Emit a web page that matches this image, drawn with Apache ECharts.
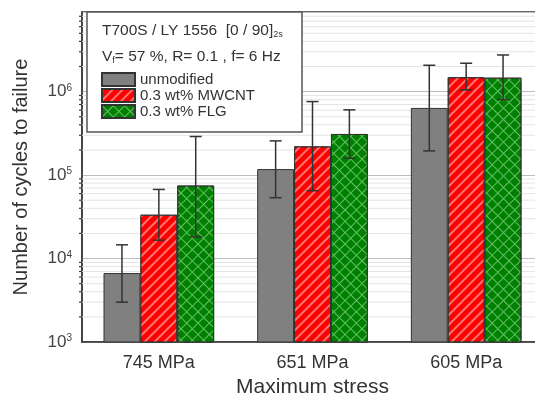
<!DOCTYPE html>
<html>
<head>
<meta charset="utf-8">
<script src="https://cdn.jsdelivr.net/npm/echarts@6/dist/echarts.min.js"></script>
<style>
  html, body { margin: 0; padding: 0; background: #fff; }
  #chart { width: 535px; height: 398px; }
</style>
</head>
<body>
<div id="chart"></div>
<script>
// dữ liệu
const categories = ['745 MPa', '651 MPa', '605 MPa'];
const seriesNames = ['unmodified', '0.3 wt% MWCNT', '0.3 wt% FLG'];
const unmodified = [6700, 118000, 638000];
const mwcnt = [33500, 221000, 1490000];
const flg = [75000, 311000, 1470000];
// [thấp, cao] của thanh sai số
const unmodifiedErr = [[3000, 14600], [53600, 257000], [195000, 2070000]];
const mwcntErr = [[16600, 67300], [65000, 760000], [1050000, 2190000]];
const flgErr = [[18200, 290000], [159000, 605000], [803000, 2750000]];
const yMin = 1000;
const yMax = 9000000;
const decades = [1e3, 1e4, 1e5, 1e6];
const minorSteps = [2, 3, 4, 5, 6, 7, 8, 9];

const FONT = '"Liberation Sans", Arial, sans-serif';

let minorData = [];
decades.forEach(d => {
    minorSteps.forEach(k => {
        if (d * k < yMax) minorData.push([0, d * k]);
    });
});

let errData = [];
[unmodifiedErr, mwcntErr, flgErr].forEach((errs, s) => {
    errs.forEach((e, i) => errData.push([i, e[0], e[1], s]));
});

const barGroup = 0.72; // phần của nhóm cột trong một danh mục

var myChart = echarts.init(document.getElementById('chart'));

let option = {
    backgroundColor: '#fff',
    animation: false,
    textStyle: { fontFamily: FONT },
    grid: {
        left: 82, top: 12, right: -8, bottom: 56,
        outerBoundsMode: 'none',
        show: true, borderColor: '#3a3a3a', borderWidth: 1.5, backgroundColor: '#fff'
    },
    legend: {
        data: seriesNames,
        orient: 'vertical',
        left: 101, top: 72,
        padding: 0,
        itemWidth: 33, itemHeight: 13, itemGap: 1,
        icon: 'rect',
        z: 6,
        textStyle: { fontSize: 15, color: '#333', fontFamily: FONT }
    },
    graphic: [
        {
            type: 'rect', z: 4,
            shape: { x: 87, y: 12, width: 215, height: 120 },
            style: { fill: '#fff', stroke: '#555', lineWidth: 1.5 }
        },
        {
            type: 'text', z: 5, left: 102, top: 23,
            style: {
                text: '{a|T700S / LY 1556  [0 / 90]}{s|2s}',
                rich: {
                    a: { fontSize: 15.5, fill: '#333', fontFamily: FONT },
                    s: { fontSize: 9, fill: '#333', fontFamily: FONT, verticalAlign: 'bottom' }
                }
            }
        },
        {
            type: 'text', z: 5, left: 102, top: 49,
            style: {
                text: '{a|V}{s|f}{a|= 57 %, R= 0.1 , f= 6 Hz}',
                rich: {
                    a: { fontSize: 15.5, fill: '#333', fontFamily: FONT },
                    s: { fontSize: 9, fill: '#333', fontFamily: FONT, verticalAlign: 'bottom' }
                }
            }
        }
    ],
    xAxis: [
        {
            type: 'category',
            data: categories,
            position: 'bottom',
            axisLine: { lineStyle: { color: '#3a3a3a', width: 1.5 } },
            axisTick: { alignWithLabel: true, length: 6, lineStyle: { color: '#3a3a3a', width: 1.5 } },
            axisLabel: { fontSize: 18, color: '#333', margin: 12 },
            name: 'Maximum stress',
            nameLocation: 'middle',
            nameGap: 35,
            nameTextStyle: { fontSize: 21, color: '#333' }
        },
        {
            type: 'category',
            data: categories,
            position: 'bottom',
            offset: 0,
            axisLine: { show: false },
            axisTick: { length: 4, lineStyle: { color: '#3a3a3a', width: 1.5 } },
            axisLabel: { show: false }
        }
    ],
    yAxis: {
        type: 'log',
        logBase: 10,
        min: yMin,
        max: yMax,
        splitNumber: 4,
        axisLine: { show: true, lineStyle: { color: '#3a3a3a', width: 1.5 } },
        axisTick: { length: 5, lineStyle: { color: '#3a3a3a', width: 1.5 } },
        splitLine: { lineStyle: { color: '#bdbdbd', width: 1 } },
        axisLabel: {
            margin: 10,
            color: '#444',
            showMaxLabel: false,
            formatter: function (v) {
                let p = Math.log10(v);
                if (Math.abs(p - Math.round(p)) > 1e-6) return '';
                return '{b|10}{p|' + Math.round(p) + '}';
            },
            rich: {
                b: { fontSize: 17, color: '#444' },
                p: { fontSize: 10, color: '#444', verticalAlign: 'top' }
            }
        },
        name: 'Number of cycles to failure',
        nameLocation: 'middle',
        nameGap: 51,
        nameTextStyle: { fontSize: 20, color: '#333' }
    },
    series: [
        {
            // lưới phụ + vạch phụ trục y
            type: 'custom',
            silent: true,
            z: 1,
            data: minorData,
            renderItem: function (params, api) {
                let p = api.coord([0, api.value(1)]);
                let cs = params.coordSys;
                return {
                    type: 'group',
                    children: [
                        {
                            type: 'line',
                            shape: { x1: cs.x, y1: p[1], x2: cs.x + cs.width, y2: p[1] },
                            style: { stroke: '#e4e4e4', lineWidth: 1 }
                        },
                        {
                            type: 'line',
                            shape: { x1: cs.x - 3, y1: p[1], x2: cs.x, y2: p[1] },
                            style: { stroke: '#3a3a3a', lineWidth: 1.2 }
                        }
                    ]
                };
            }
        },
        {
            name: seriesNames[0],
            type: 'bar',
            data: unmodified,
            barGap: '0%',
            barCategoryGap: '28%',
            itemStyle: { color: '#808080', borderColor: '#333', borderWidth: 1 }
        },
        {
            name: seriesNames[1],
            type: 'bar',
            data: mwcnt,
            itemStyle: {
                color: '#ff0000', borderColor: '#333', borderWidth: 1,
                decal: {
                    symbol: 'rect', symbolSize: 1,
                    dashArrayX: [1, 0], dashArrayY: [1.3, 4.5],
                    rotation: -Math.PI / 4,
                    color: 'rgba(255,255,255,0.45)'
                }
            }
        },
        {
            name: seriesNames[2],
            type: 'bar',
            data: flg,
            itemStyle: {
                color: '#008000', borderColor: '#333', borderWidth: 1,
                decal: {
                    symbol: 'path://M0,0H8V1H1V8H0Z', symbolSize: 1, symbolKeepAspect: false,
                    dashArrayX: [7.5, 0], dashArrayY: [7.5, 0],
                    rotation: Math.PI / 4,
                    color: 'rgba(200,255,200,0.5)'
                }
            }
        },
        {
            // thanh sai số
            type: 'custom',
            silent: true,
            z: 5,
            data: errData,
            renderItem: function (params, api) {
                let band = api.size([1, 0])[0];
                let bw = band * barGroup / 3;
                let s = api.value(3);
                let lo = api.coord([api.value(0), api.value(1)]);
                let hi = api.coord([api.value(0), api.value(2)]);
                let x = lo[0] + (s - 1) * bw;
                let cap = 6;
                let st = { stroke: '#333', lineWidth: 1.5 };
                return {
                    type: 'group',
                    children: [
                        { type: 'line', shape: { x1: x, y1: lo[1], x2: x, y2: hi[1] }, style: st },
                        { type: 'line', shape: { x1: x - cap, y1: hi[1], x2: x + cap, y2: hi[1] }, style: st },
                        { type: 'line', shape: { x1: x - cap, y1: lo[1], x2: x + cap, y2: lo[1] }, style: st }
                    ]
                };
            }
        }
    ]
};

myChart.setOption(option);
</script>
</body>
</html>
